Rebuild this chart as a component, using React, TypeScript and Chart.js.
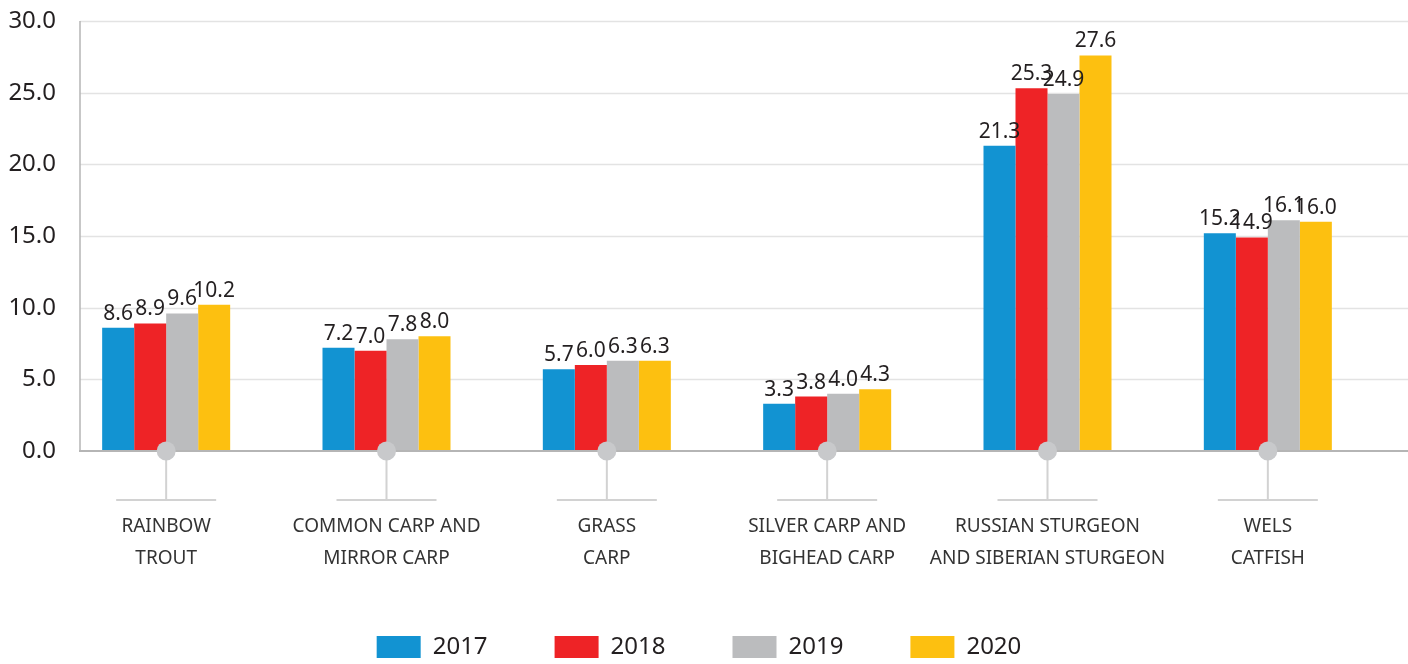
import React, { useEffect, useRef } from "react";
import { Chart, registerables } from "chart.js";

Chart.register(...registerables);

const categories: string[][] = [
  ["RAINBOW", "TROUT"],
  ["COMMON CARP AND", "MIRROR CARP"],
  ["GRASS", "CARP"],
  ["SILVER CARP AND", "BIGHEAD CARP"],
  ["RUSSIAN STURGEON", "AND SIBERIAN STURGEON"],
  ["WELS", "CATFISH"],
];
const years = ["2017", "2018", "2019", "2020"];
const values2017 = [8.6, 7.2, 5.7, 3.3, 21.3, 15.2];
const values2018 = [8.9, 7.0, 6.0, 3.8, 25.3, 14.9];
const values2019 = [9.6, 7.8, 6.3, 4.0, 24.9, 16.1];
const values2020 = [10.2, 8.0, 6.3, 4.3, 27.6, 16.0];
const seriesColors = ["#1293d2", "#ee2326", "#bbbcbe", "#fdc010"];
const yMin = 0;
const yMax = 30;
const yStep = 5;

const FONT = "'Noto Sans', sans-serif";
const TEXT = "#231f20";

const decorPlugin = {
  id: "decor",
  beforeDatasetsDraw(chart: any) {
    const { ctx, scales, width } = chart;
    const y = scales.y;
    const axisX = 80;
    ctx.save();
    y.ticks.forEach((t: any) => {
      const py = Math.round(y.getPixelForValue(t.value)) + 0.5;
      if (t.value === 0) return;
      ctx.strokeStyle = "#e3e3e3";
      ctx.lineWidth = 1.5;
      ctx.beginPath();
      ctx.moveTo(axisX, py);
      ctx.lineTo(width, py);
      ctx.stroke();
    });
    const top = y.getPixelForValue(yMax);
    const zero = y.getPixelForValue(0);
    ctx.strokeStyle = "#b5b5b5";
    ctx.lineWidth = 1.5;
    ctx.beginPath();
    ctx.moveTo(axisX, top);
    ctx.lineTo(axisX, zero);
    ctx.stroke();
    ctx.restore();
  },
  afterDatasetsDraw(chart: any) {
    const { ctx, scales, width } = chart;
    const x = scales.x;
    const y = scales.y;
    const zero = y.getPixelForValue(0);
    ctx.save();
    ctx.strokeStyle = "#b5b5b5";
    ctx.lineWidth = 2;
    ctx.beginPath();
    ctx.moveTo(79, zero);
    ctx.lineTo(width, zero);
    ctx.stroke();
    ctx.fillStyle = TEXT;
    ctx.font = `21px ${FONT}`;
    ctx.textAlign = "center";
    ctx.textBaseline = "alphabetic";
    chart.data.datasets.forEach((ds: any, di: number) => {
      const meta = chart.getDatasetMeta(di);
      meta.data.forEach((bar: any, i: number) => {
        ctx.fillText(Number(ds.data[i]).toFixed(1), bar.x, bar.y - 8);
      });
    });
    categories.forEach((_, i) => {
      const cx = x.getPixelForValue(i);
      const lineY = zero + 49;
      ctx.strokeStyle = "#d2d2d2";
      ctx.lineWidth = 2;
      ctx.beginPath();
      ctx.moveTo(cx, zero);
      ctx.lineTo(cx, lineY);
      ctx.moveTo(cx - 50, lineY);
      ctx.lineTo(cx + 50, lineY);
      ctx.stroke();
      ctx.fillStyle = "#c8c9cb";
      ctx.beginPath();
      ctx.arc(cx, zero, 9.5, 0, Math.PI * 2);
      ctx.fill();
    });
    ctx.restore();
  },
};

export default function App() {
  const ref = useRef<HTMLCanvasElement | null>(null);

  useEffect(() => {
    if (!ref.current) return;
    Chart.defaults.font.family = FONT;
    Chart.defaults.color = TEXT;
    const seriesValues = [values2017, values2018, values2019, values2020];
    const chart = new Chart(ref.current, {
      type: "bar",
      data: {
        labels: categories,
        datasets: years.map((yr, i) => ({
          label: yr,
          data: seriesValues[i],
          backgroundColor: seriesColors[i],
          borderWidth: 0,
          barPercentage: 1,
          categoryPercentage: 0.581,
        })),
      },
      options: {
        animation: false,
        responsive: true,
        maintainAspectRatio: false,
        layout: { padding: { left: 0, right: 10, top: 21, bottom: 0 } },
        plugins: {
          tooltip: { enabled: false },
          legend: {
            position: "bottom",
            maxHeight: 96,
            labels: {
              boxWidth: 44,
              boxHeight: 22,
              padding: 67,
              color: TEXT,
              font: { size: 24, family: FONT },
            },
          },
        },
        scales: {
          x: {
            offset: true,
            grid: { display: false, drawTicks: false },
            border: { display: false },
            ticks: {
              autoSkip: false,
              maxRotation: 0,
              padding: 60,
              color: "#333333",
              font: { size: 19, family: FONT, lineHeight: "32px" },
            },
            afterFit(scale: any) {
              scale.height = 117;
            },
          },
          y: {
            min: yMin,
            max: yMax,
            grid: { display: false, drawTicks: false },
            border: { display: false },
            ticks: {
              stepSize: yStep,
              padding: 0,
              color: TEXT,
              font: { size: 24, family: FONT },
              callback: (v: any) => Number(v).toFixed(1),
            },
            afterFit(scale: any) {
              scale.width = 56;
            },
          },
          ySpacer: {
            type: "linear",
            position: "right",
            display: true,
            grid: { display: false, drawTicks: false },
            border: { display: false },
            ticks: { display: false },
            afterFit(scale: any) {
              scale.width = 20;
            },
          },
        },
      },
      plugins: [decorPlugin],
    } as any);
    return () => chart.destroy();
  }, []);

  return (
    <div style={{ position: "fixed", left: 0, top: 0, width: 1408, height: 664, background: "#fff" }}>
      <canvas ref={ref} />
    </div>
  );
}
